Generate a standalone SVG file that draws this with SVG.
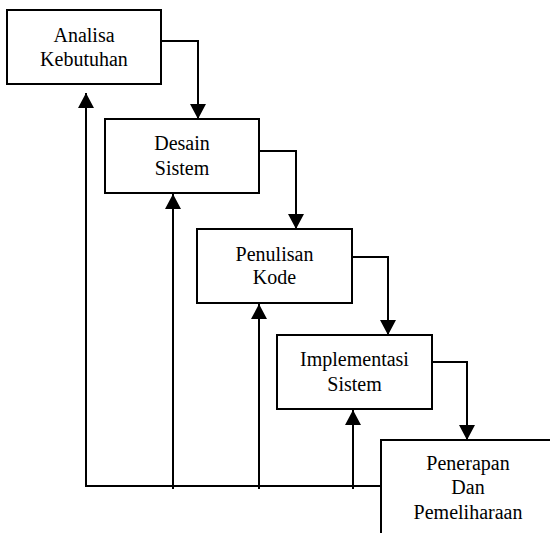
<svg xmlns="http://www.w3.org/2000/svg" width="550" height="533" viewBox="0 0 550 533">
<style>
.box{fill:#fff;stroke:#000;stroke-width:2}
.ln{fill:none;stroke:#000;stroke-width:2}
</style>
<defs>
<marker id="ah" viewBox="0 0 15 16" refX="15" refY="8" markerWidth="15" markerHeight="16" markerUnits="userSpaceOnUse" orient="auto">
<path d="M0,0 L15,8 L0,16 Z" fill="#000"/>
</marker>
</defs>
<rect width="550" height="533" fill="#fff"/>
<g id="connectors">
<polyline class="ln" points="161,41 198,41 198,119" marker-end="url(#ah)"/>
<polyline class="ln" points="259,151 296,151 296,229" marker-end="url(#ah)"/>
<polyline class="ln" points="352,257 388,257 388,335" marker-end="url(#ah)"/>
<polyline class="ln" points="432,362 467,362 467,440" marker-end="url(#ah)"/>
<polyline class="ln" points="381,486 86,486 86,93" marker-end="url(#ah)"/>
<polyline class="ln" points="173,489 173,194" marker-end="url(#ah)"/>
<polyline class="ln" points="259,489 259,304" marker-end="url(#ah)"/>
<polyline class="ln" points="353,489 353,410" marker-end="url(#ah)"/>
</g>
<g id="analisa">
<rect class="box" x="7" y="10" width="154" height="74"/>
<text x="84" y="42" font-family="Liberation Serif" font-size="20" text-anchor="middle">Analisa</text>
<text x="84" y="66" font-family="Liberation Serif" font-size="20" text-anchor="middle">Kebutuhan</text>
</g>
<g id="desain">
<rect class="box" x="105" y="119" width="154" height="74"/>
<text x="182" y="150" font-family="Liberation Serif" font-size="20" text-anchor="middle">Desain</text>
<text x="182" y="175" font-family="Liberation Serif" font-size="20" text-anchor="middle">Sistem</text>
</g>
<g id="penulisan">
<rect class="box" x="197" y="229" width="155" height="74"/>
<text x="274.5" y="261" font-family="Liberation Serif" font-size="20" text-anchor="middle">Penulisan</text>
<text x="274.5" y="284" font-family="Liberation Serif" font-size="20" text-anchor="middle">Kode</text>
</g>
<g id="implementasi">
<rect class="box" x="277" y="335" width="155" height="74"/>
<text x="354.5" y="366" font-family="Liberation Serif" font-size="20" text-anchor="middle">Implementasi</text>
<text x="354.5" y="391" font-family="Liberation Serif" font-size="20" text-anchor="middle">Sistem</text>
</g>
<g id="penerapan">
<rect class="box" x="381" y="440" width="180" height="110"/>
<text x="468" y="470" font-family="Liberation Serif" font-size="20" text-anchor="middle">Penerapan</text>
<text x="468" y="494" font-family="Liberation Serif" font-size="20" text-anchor="middle">Dan</text>
<text x="468" y="519" font-family="Liberation Serif" font-size="20" text-anchor="middle">Pemeliharaan</text>
</g>
</svg>
